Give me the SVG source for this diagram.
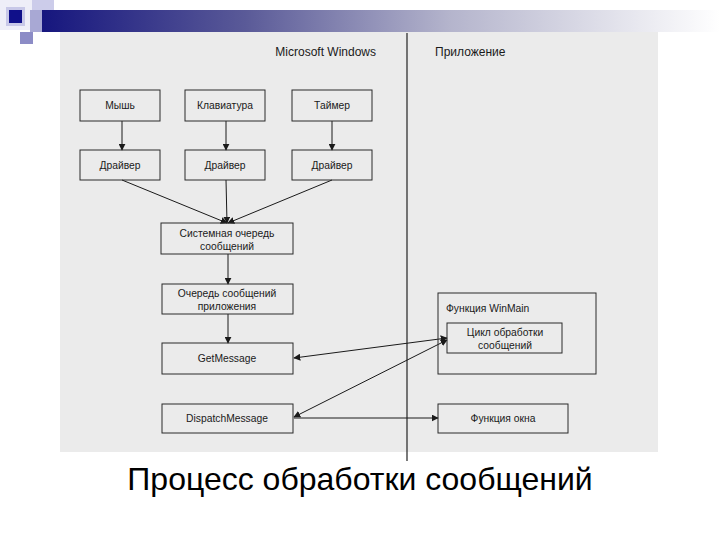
<svg xmlns="http://www.w3.org/2000/svg" width="720" height="540" viewBox="0 0 720 540">
<defs>
<linearGradient id="bar" x1="0" y1="0" x2="1" y2="0">
<stop offset="0" stop-color="#16167e"/>
<stop offset="0.3" stop-color="#5a5a98"/>
<stop offset="0.6" stop-color="#b4b4cc"/>
<stop offset="1" stop-color="#ffffff"/>
</linearGradient>
<marker id="ah" viewBox="0 0 10 10" refX="9" refY="5" markerWidth="7" markerHeight="7" markerUnits="userSpaceOnUse" orient="auto-start-reverse">
<path d="M0,0 L10,5 L0,10 z" fill="#1a1a1a"/>
</marker>
<style>
.box{fill:none;stroke:#2a2a2a;stroke-width:1}
.t{font-family:"Liberation Sans",Arial,sans-serif;font-size:10.3px;fill:#1a1a1a;text-anchor:middle;dominant-baseline:central}
.h{font-family:"Liberation Sans",Arial,sans-serif;font-size:12px;fill:#1a1a1a;dominant-baseline:central}
.c{fill:none;stroke:#1a1a1a;stroke-width:1}
</style>
</defs>
<rect width="720" height="540" fill="#ffffff"/>
<g id="decor">
<rect x="0" y="0" width="32" height="30" fill="#eeeef8"/>
<rect x="32" y="0" width="22" height="32" fill="#ccccea"/>
<rect x="30" y="10" width="14" height="22" fill="#a8a8d4"/>
<rect x="42" y="10" width="678" height="22" fill="url(#bar)"/>
<rect x="6" y="7" width="19" height="19" fill="#c8c8e8"/>
<rect x="9" y="10" width="13" height="13" fill="#10108a"/>
<rect x="20" y="32" width="13" height="12" fill="#8c8cc6"/>
</g>
<rect x="60" y="32" width="598" height="420" fill="#ebebeb"/>
<line x1="407" y1="33" x2="407" y2="461" stroke="#222" stroke-width="1.2"/>
<text class="h" x="376" y="52" text-anchor="end">Microsoft Windows</text>
<text class="h" x="435" y="52">Приложение</text>
<g id="connectors">
<line class="c" x1="122" y1="121" x2="122" y2="150" marker-end="url(#ah)"/>
<line class="c" x1="226" y1="121" x2="226" y2="150" marker-end="url(#ah)"/>
<line class="c" x1="332" y1="121" x2="332" y2="150" marker-end="url(#ah)"/>
<line class="c" x1="122" y1="180" x2="227" y2="223" marker-end="url(#ah)"/>
<line class="c" x1="226" y1="180" x2="227" y2="223" marker-end="url(#ah)"/>
<line class="c" x1="332" y1="180" x2="228" y2="223" marker-end="url(#ah)"/>
<line class="c" x1="228" y1="254" x2="228" y2="284" marker-end="url(#ah)"/>
<line class="c" x1="228" y1="314" x2="228" y2="343" marker-end="url(#ah)"/>
<line class="c" x1="294" y1="358" x2="447" y2="338" marker-start="url(#ah)" marker-end="url(#ah)"/>
<line class="c" x1="294" y1="417" x2="447" y2="340" marker-start="url(#ah)" marker-end="url(#ah)"/>
<line class="c" x1="294" y1="418" x2="438" y2="418" marker-end="url(#ah)"/>
</g>
<g id="mouse"><rect class="box" x="80" y="90" width="80" height="31"/><text class="t" x="120" y="105.5">Мышь</text></g>
<g id="keyboard"><rect class="box" x="185" y="90" width="80" height="31"/><text class="t" x="225" y="105.5">Клавиатура</text></g>
<g id="timer"><rect class="box" x="292" y="90" width="80" height="31"/><text class="t" x="332" y="105.5">Таймер</text></g>
<g id="driver1"><rect class="box" x="80" y="150" width="80" height="30"/><text class="t" x="120" y="165">Драйвер</text></g>
<g id="driver2"><rect class="box" x="185" y="150" width="80" height="30"/><text class="t" x="225" y="165">Драйвер</text></g>
<g id="driver3"><rect class="box" x="292" y="150" width="80" height="30"/><text class="t" x="332" y="165">Драйвер</text></g>
<g id="sysqueue"><rect class="box" x="161" y="223" width="132" height="31"/><text class="t" x="227" y="233">Системная очередь</text><text class="t" x="227" y="246">сообщений</text></g>
<g id="appqueue"><rect class="box" x="162" y="284" width="131" height="30"/><text class="t" x="227" y="293">Очередь сообщений</text><text class="t" x="227" y="306">приложения</text></g>
<g id="getmessage"><rect class="box" x="162" y="343" width="131" height="31"/><text class="t" x="227" y="358.5">GetMessage</text></g>
<g id="dispatchmessage"><rect class="box" x="162" y="404" width="131" height="29"/><text class="t" x="227" y="418.5">DispatchMessage</text></g>
<g id="winmain"><rect class="box" x="438" y="293" width="158" height="81"/><text class="t" x="446" y="308" style="text-anchor:start">Функция WinMain</text></g>
<g id="loop"><rect class="box" x="447" y="323" width="115" height="30"/><text class="t" x="505" y="332">Цикл обработки</text><text class="t" x="505" y="345">сообщений</text></g>
<g id="wndproc"><rect class="box" x="438" y="404" width="130" height="29"/><text class="t" x="503" y="418.5">Функция окна</text></g>
<text x="360" y="490" text-anchor="middle" font-family="'Liberation Sans',Arial,sans-serif" font-size="32" fill="#000">Процесс обработки сообщений</text>
</svg>
